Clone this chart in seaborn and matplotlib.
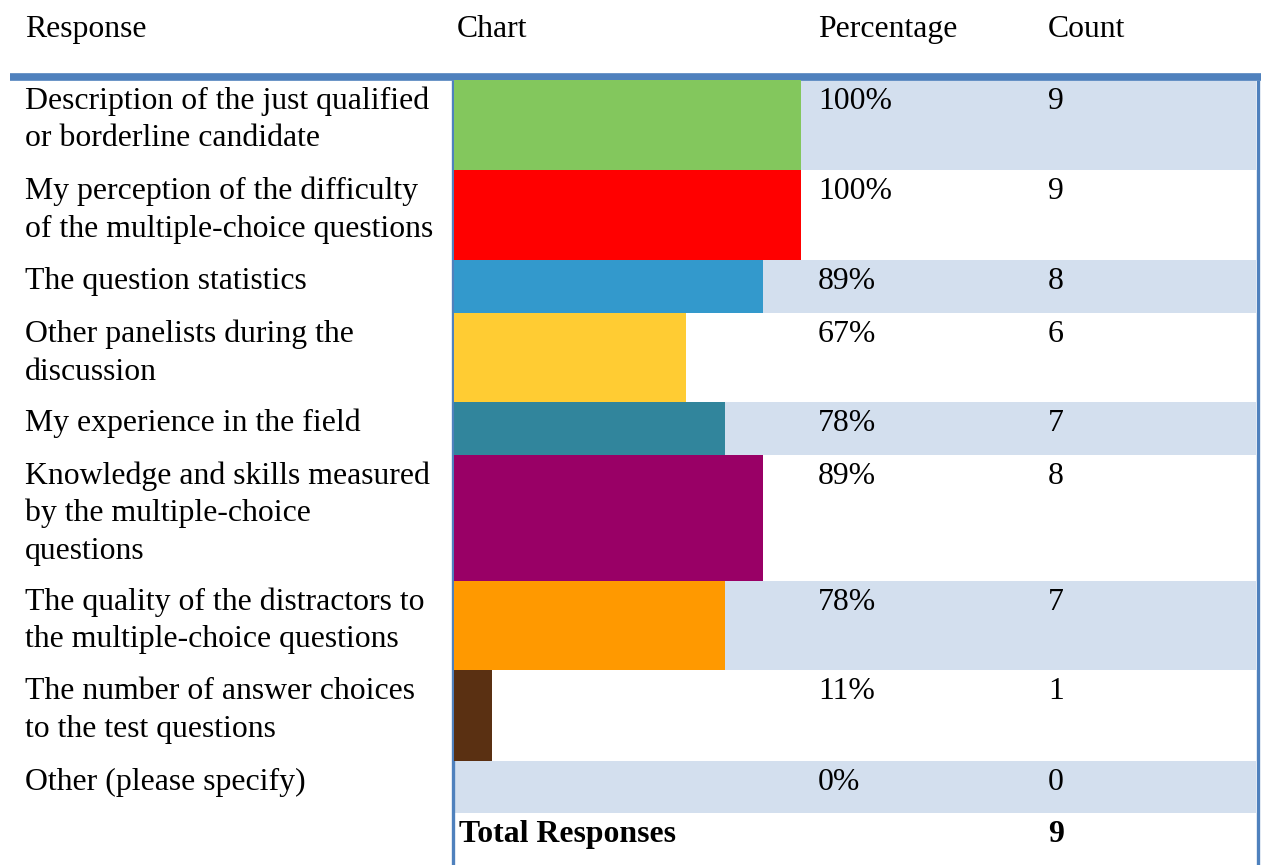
import matplotlib
matplotlib.use("Agg")
import matplotlib.pyplot as plt
import matplotlib.transforms as mtransforms
import seaborn as sns
import pandas as pd

# ---- data ----
responses = [
    "Description of the just qualified\nor borderline candidate",
    "My perception of the difficulty\nof the multiple-choice questions",
    "The question statistics",
    "Other panelists during the\ndiscussion",
    "My experience in the field",
    "Knowledge and skills measured\nby the multiple-choice\nquestions",
    "The quality of the distractors to\nthe multiple-choice questions",
    "The number of answer choices\nto the test questions",
    "Other (please specify)",
]
percentages = [100, 100, 89, 67, 78, 89, 78, 11, 0]
counts = [9, 9, 8, 6, 7, 8, 7, 1, 0]
total_responses = 9
headers = ["Response", "Chart", "Percentage", "Count"]

bar_colors = ["#83C75D", "#FF0000", "#3399CC", "#FFCC33", "#31859C",
              "#990066", "#FF9900", "#5A3012", "#D3DFEE"]

# ---- layout (pixels) ----
W, H = 1261, 865
row_tops = [80, 170, 260, 313, 402, 455, 581, 670, 761, 813]
row_bottoms = row_tops[1:] + [H]
col_x = [25, 457, 818, 1048]
chart_left, chart_right = 454, 801      # 0% .. 100%
table_right = 1256
border = "#4F81BD"
shade = "#D3DFEE"
first_base = 29
line_gap = 37.5

sns.set_theme(style="white")
plt.rcParams["font.family"] = ["Liberation Serif", "DejaVu Serif"]
FS = 22.9

fig = plt.figure(figsize=(W / 100, H / 100), dpi=100)
base = fig.add_axes([0, 0, 1, 1])
base.set_xlim(0, W)
base.set_ylim(H, 0)
base.axis("off")

# alternating row shading
for i in range(len(responses)):
    if i % 2 == 0:
        base.fill_between([chart_left, table_right], row_tops[i], row_bottoms[i],
                          color=shade, lw=0, zorder=1)

# header
for x, h in zip(col_x, headers):
    base.text(x, 37, h, fontsize=FS, va="baseline", ha="left", color="black")

# rows of text
for i, (resp, pct, cnt) in enumerate(zip(responses, percentages, counts)):
    y0 = row_tops[i] + first_base
    for k, line in enumerate(resp.split("\n")):
        base.text(col_x[0], y0 + k * line_gap, line, fontsize=FS,
                  va="baseline", ha="left", color="black")
    base.text(col_x[2], y0, f"{pct}%", fontsize=FS, va="baseline", color="black")
    base.text(col_x[3], y0, f"{cnt}", fontsize=FS, va="baseline", color="black")

# total row
yt = row_tops[-1] + first_base
base.text(459, yt, "Total Responses", fontsize=FS, fontweight="bold",
          va="baseline", color="black")
base.text(col_x[3], yt, f"{total_responses}", fontsize=FS, fontweight="bold",
          va="baseline", color="black")

# bars drawn on an axes whose x scale is the percentage
bars = fig.add_axes([chart_left / W, 0, (chart_right - chart_left) / W, 1])
bars.patch.set_alpha(0)
df = pd.DataFrame({"response": responses, "pct": percentages})
sns.barplot(data=df, x="pct", y="response", hue="response",
            palette=bar_colors, orient="h", width=1, legend=False,
            saturation=1, ax=bars)
bars.set_xlim(0, 100)
# stretch each bar to the height of its table row
for i, patch in enumerate(bars.patches):
    patch.set_linewidth(0)
    patch.set_transform(mtransforms.blended_transform_factory(
        bars.transData, base.transData))
    patch.set_y(row_tops[i])
    patch.set_height(row_bottoms[i] - row_tops[i])
bars.axis("off")

# table borders
base.plot([10, W], [76.5, 76.5], color=border, lw=5.5, solid_capstyle="butt", zorder=5)
base.plot([452.5, 452.5], [80, H], color=border, lw=2.4, solid_capstyle="butt", zorder=5)
base.plot([1257.5, 1257.5], [80, H], color=border, lw=2.4, solid_capstyle="butt", zorder=5)

fig.savefig("out.png", dpi=100)
